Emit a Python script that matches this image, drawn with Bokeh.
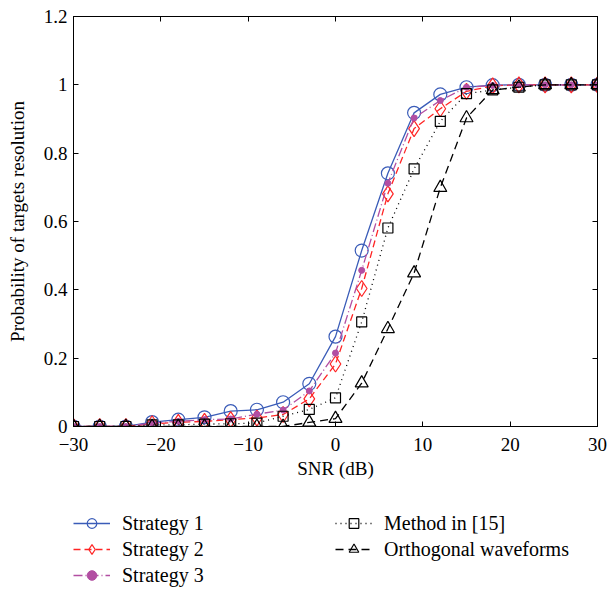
from bokeh.plotting import figure
from bokeh.layouts import column
from bokeh.models import (Range1d, FixedTicker, LinearAxis, Legend, LegendItem)
from bokeh.embed import file_html
from bokeh.resources import INLINE

# ---- data ----
snr = [-30, -27, -24, -21, -18, -15, -12, -9, -6, -3, 0, 3, 6, 9, 12, 15, 18, 21, 24, 27, 30]
strategy1 = [0, 0, 0, 0.013, 0.02, 0.027, 0.045, 0.049, 0.071, 0.125, 0.263, 0.515, 0.741, 0.918, 0.972, 0.993, 0.999, 1.0, 1.0, 1.0, 1.0]
strategy2 = [0, 0, 0, 0.008, 0.012, 0.015, 0.02, 0.025, 0.035, 0.081, 0.183, 0.404, 0.681, 0.872, 0.930, 0.981, 0.997, 1.0, 1.0, 1.0, 1.0]
strategy3 = [0, 0, 0, 0.01, 0.015, 0.02, 0.022, 0.036, 0.048, 0.104, 0.215, 0.457, 0.712, 0.903, 0.954, 0.993, 0.998, 1.0, 1.0, 1.0, 1.0]
method15 = [0, 0, 0, 0.005, 0.005, 0.007, 0.008, 0.01, 0.03, 0.05, 0.084, 0.306, 0.581, 0.754, 0.893, 0.974, 0.985, 0.993, 1.0, 1.0, 1.0]
orthogonal = [0, 0, 0, 0, 0, 0, 0, 0, 0, 0.012, 0.023, 0.127, 0.286, 0.449, 0.699, 0.903, 0.985, 0.993, 1.0, 1.0, 1.0]

series_labels = ["Strategy 1", "Strategy 2", "Strategy 3", "Method in [15]", "Orthogonal waveforms"]
x_ticks = [-30, -20, -10, 0, 10, 20, 30]
x_tick_labels = ["\u221230", "\u221220", "\u221210", "0", "10", "20", "30"]
y_ticks = [0, 0.2, 0.4, 0.6, 0.8, 1.0, 1.2]
y_tick_labels = ["0", "0.2", "0.4", "0.6", "0.8", "1", "1.2"]
x_label = "SNR (dB)"
y_label = "Probability of targets resolution"

FONT = "Liberation Serif"

blue = "#3a5cb8"
red = "#ff2424"
purple = "#b24ea2"

p = figure(frame_width=524, frame_height=410, output_backend="svg", toolbar_location=None,
           x_range=Range1d(-30, 30), y_range=Range1d(0, 1.2),
           min_border_left=73, min_border_top=16, min_border_right=10,
           min_border_bottom=54)
p.grid.visible = False
p.outline_line_color = "black"
p.outline_line_width = 1
p.background_fill_color = "white"
p.border_fill_color = "white"

def style_axis(ax, ticks, labels=None, show_labels=True):
    ax.ticker = FixedTicker(ticks=ticks)
    ax.minor_tick_line_color = None
    ax.major_tick_in = 5
    ax.major_tick_out = 0
    ax.axis_line_color = "black"
    ax.major_tick_line_color = "black"
    ax.major_label_text_font = FONT
    ax.axis_label_text_font = FONT
    ax.axis_label_text_font_style = "normal"
    ax.axis_label_text_color = "black"
    if show_labels:
        ax.major_label_overrides = dict(zip(ticks, labels))
        ax.major_label_text_color = "black"
        ax.major_label_text_font_size = "19px"
        ax.axis_label_text_font_size = "19px"
    else:
        ax.major_label_text_color = None
        ax.major_label_text_font_size = "1px"
        ax.major_label_standoff = 0

xa = p.xaxis[0]
style_axis(xa, x_ticks, x_tick_labels)
xa.axis_label = x_label
xa.major_label_standoff = 11
xa.axis_label_standoff = 4

ya = p.yaxis[0]
style_axis(ya, y_ticks, y_tick_labels)
ya.axis_label = y_label
ya.major_label_standoff = 6
ya.axis_label_standoff = 13

top = LinearAxis()
style_axis(top, x_ticks, show_labels=False)
p.add_layout(top, "above")
right = LinearAxis()
style_axis(right, y_ticks, show_labels=False)
p.add_layout(right, "right")

def draw_series(fig):
    l1 = fig.line(snr, strategy1, line_color=blue, line_width=1.3)
    m1 = fig.scatter(snr, strategy1, marker="circle", size=13, fill_color=None,
                     line_color=blue, line_width=1.2)
    l2 = fig.line(snr, strategy2, line_color=red, line_width=1.3, line_dash="7 4")
    m2 = fig.scatter(snr, strategy2, marker="diamond", size=16, fill_color=None,
                     line_color=red, line_width=1.2)
    l3 = fig.line(snr, strategy3, line_color=purple, line_width=1.3, line_dash="9 3 1 3")
    m3 = fig.scatter(snr, strategy3, marker="circle", size=6, fill_color=purple,
                     line_color=purple)
    l4 = fig.line(snr, method15, line_color="black", line_width=1.3, line_dash="1 4")
    m4 = fig.scatter(snr, method15, marker="square", size=10, fill_color=None,
                     line_color="black", line_width=1.2)
    l5 = fig.line(snr, orthogonal, line_color="black", line_width=1.3, line_dash="8 5")
    m5 = fig.scatter(snr, orthogonal, marker="triangle", size=13, fill_color=None,
                     line_color="black", line_width=1.2)
    return [(l1, m1), (l2, m2), (l3, m3), (l4, m4), (l5, m5)]

draw_series(p)

# legend strip below the chart (its series lie outside its ranges, so only the key shows)
lf = figure(width=607, height=109, output_backend="svg", toolbar_location=None,
            x_range=Range1d(1000, 1001), y_range=Range1d(1000, 1001),
            x_axis_location=None, y_axis_location=None, min_border=0)
lf.grid.visible = False
lf.outline_line_color = None
lf.background_fill_color = "white"
lf.border_fill_color = "white"
pairs = draw_series(lf)

legend = Legend(
    items=[LegendItem(label=lab, renderers=list(rr)) for lab, rr in zip(series_labels, pairs)],
    location=(0, 3), orientation="vertical", nrows=3,
    label_text_font=FONT, label_text_font_size="20px", label_text_font_style="normal",
    label_text_color="black", glyph_width=37, glyph_height=24, label_height=24,
    label_width=211, spacing=2, label_standoff=12, padding=0, margin=0,
    border_line_color=None, background_fill_alpha=0)
lf.add_layout(legend, "center")

page = column(p, lf, spacing=0)
open("out.html", "w").write(file_html(page, INLINE))
